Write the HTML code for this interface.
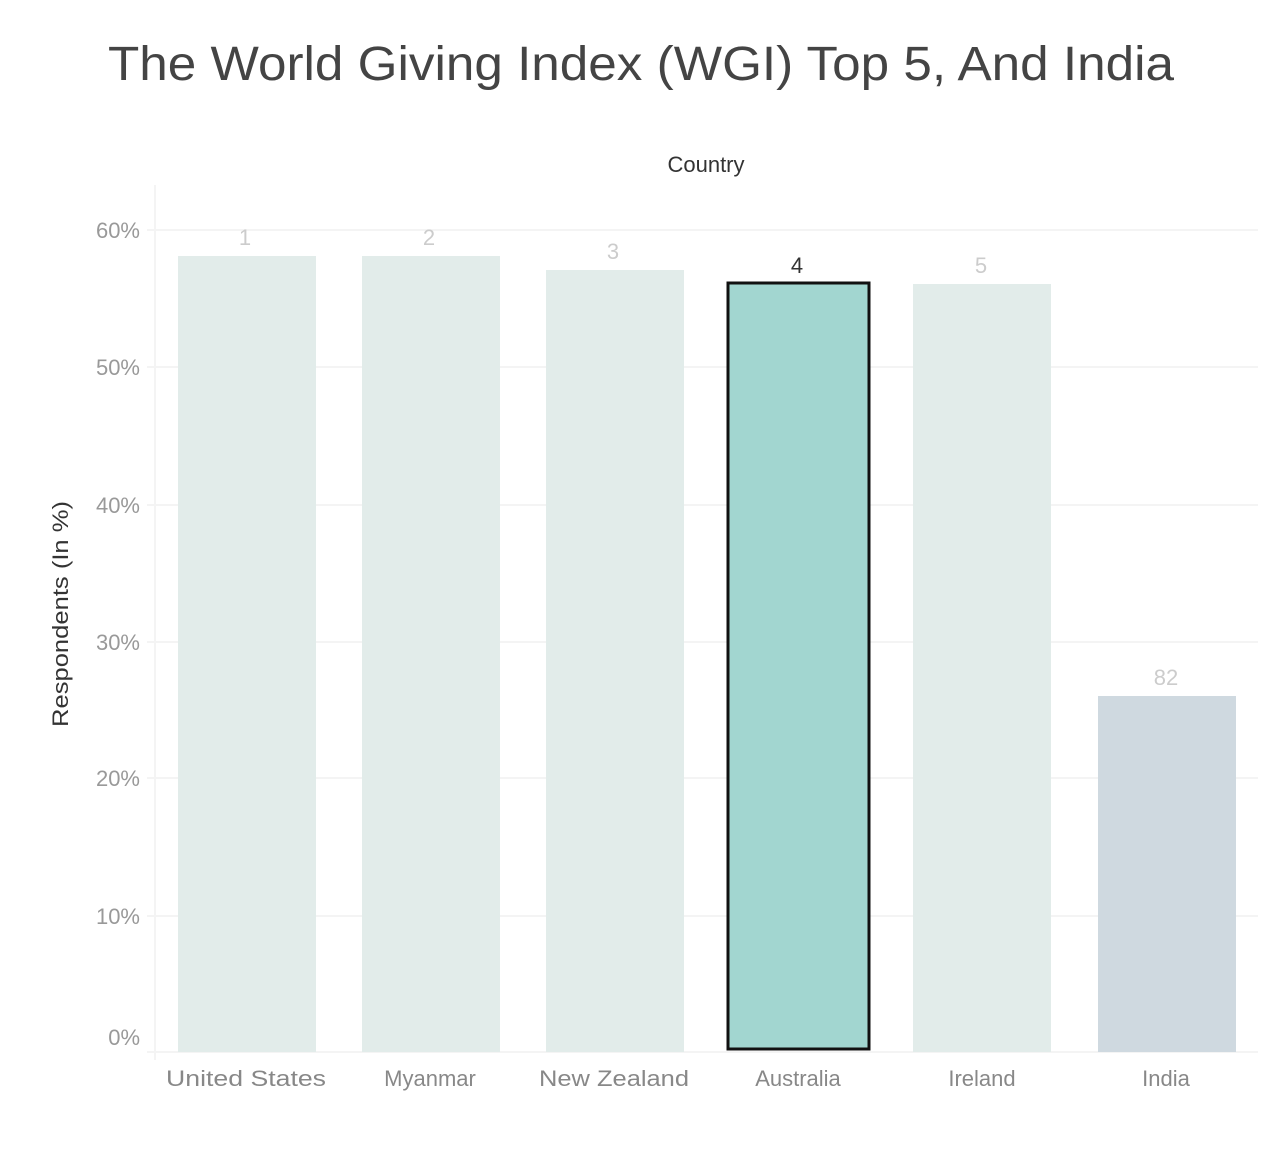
<!DOCTYPE html>
<html><head><style>body{margin:0;background:#fff}</style></head><body>
<svg width="1280" height="1155" xmlns="http://www.w3.org/2000/svg" font-family="Liberation Sans, sans-serif">
<rect width="1280" height="1155" fill="#fff"/>
<text x="641" y="80" font-size="48" fill="#444" text-anchor="middle" textLength="1066" lengthAdjust="spacingAndGlyphs">The World Giving Index (WGI) Top 5, And India</text>
<text x="706" y="172" font-size="22" fill="#333" text-anchor="middle">Country</text>
<text transform="translate(68,614) rotate(-90)" font-size="22" fill="#333" text-anchor="middle" textLength="226" lengthAdjust="spacingAndGlyphs">Respondents (In %)</text>
<g stroke="#f4f4f4" stroke-width="2">
<line x1="147" y1="230" x2="1258" y2="230"/><line x1="147" y1="367" x2="1258" y2="367"/>
<line x1="147" y1="505" x2="1258" y2="505"/><line x1="147" y1="642" x2="1258" y2="642"/>
<line x1="147" y1="778" x2="1258" y2="778"/><line x1="147" y1="916" x2="1258" y2="916"/>
<line x1="147" y1="1052" x2="1258" y2="1052"/><line x1="155" y1="185" x2="155" y2="1060"/>
</g>
<g font-size="22" fill="#999" text-anchor="end">
<text x="140" y="238">60%</text><text x="140" y="375">50%</text><text x="140" y="513">40%</text>
<text x="140" y="650">30%</text><text x="140" y="786">20%</text><text x="140" y="924">10%</text>
<text x="140" y="1045">0%</text>
</g>
<rect x="178" y="256" width="138" height="796" fill="#e2ecea"/>
<rect x="362" y="256" width="138" height="796" fill="#e2ecea"/>
<rect x="546" y="270" width="138" height="782" fill="#e2ecea"/>
<rect x="728" y="283" width="141" height="766" fill="#a2d6d0" stroke="#111" stroke-width="3"/>
<rect x="913" y="284" width="138" height="768" fill="#e2ecea"/>
<rect x="1098" y="696" width="138" height="356" fill="#cfd9e0"/>
<g font-size="22" text-anchor="middle" fill="#ccc">
<text x="245" y="245">1</text><text x="429" y="245">2</text><text x="613" y="259">3</text>
<text x="797" y="273" fill="#333">4</text><text x="981" y="273">5</text><text x="1166" y="685">82</text>
</g>
<g font-size="22" text-anchor="middle" fill="#888">
<text x="246" y="1086" textLength="160" lengthAdjust="spacingAndGlyphs">United States</text><text x="430" y="1086">Myanmar</text>
<text x="614" y="1086" textLength="150" lengthAdjust="spacingAndGlyphs">New Zealand</text><text x="798" y="1086">Australia</text>
<text x="982" y="1086">Ireland</text><text x="1166" y="1086">India</text>
</g>
</svg>
</body></html>
